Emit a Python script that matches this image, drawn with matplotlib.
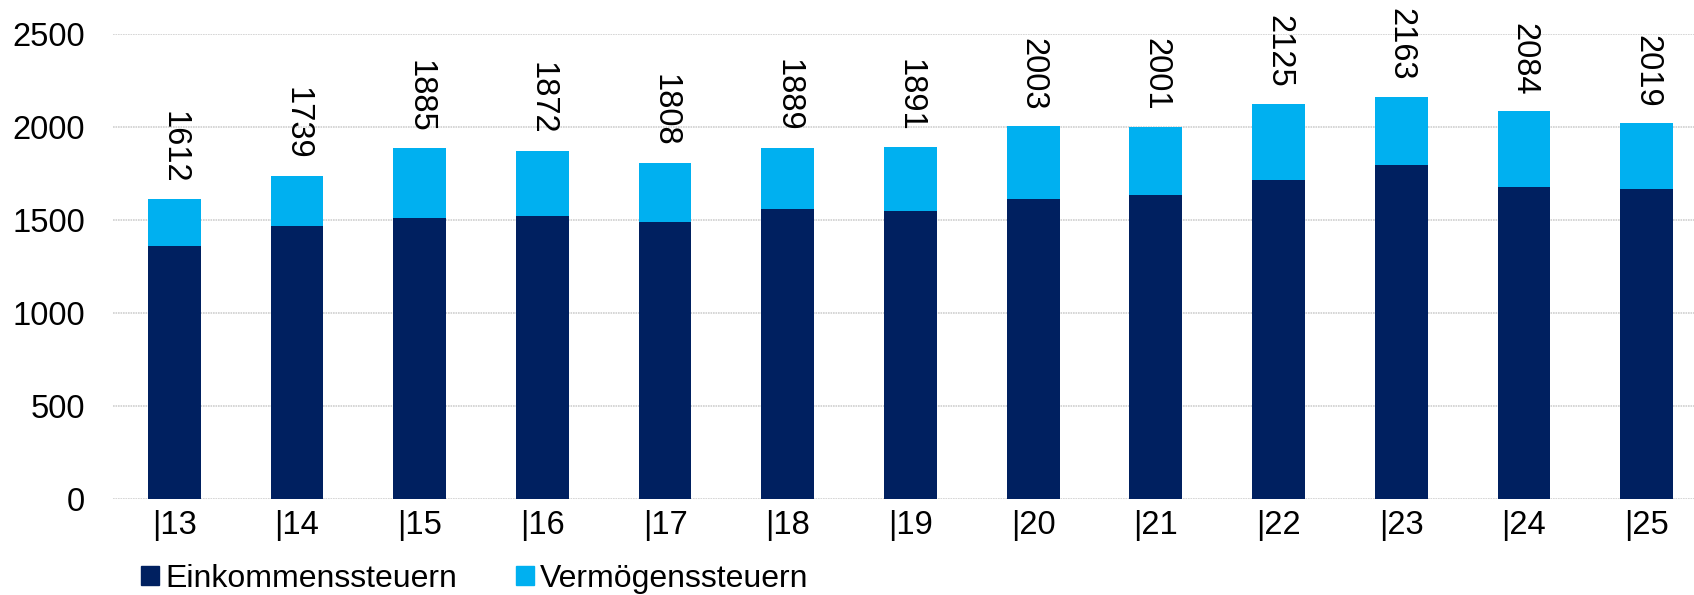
import numpy as np
import matplotlib.pyplot as plt
from matplotlib.patches import Patch

# data
years = ["|13", "|14", "|15", "|16", "|17", "|18", "|19", "|20", "|21", "|22", "|23", "|24", "|25"]
totals = [1612, 1739, 1885, 1872, 1808, 1889, 1891, 2003, 2001, 2125, 2163, 2084, 2019]
einkommen = [1358, 1466, 1509, 1523, 1487, 1561, 1550, 1615, 1632, 1713, 1796, 1675, 1665]
vermoegen = [t - e for t, e in zip(totals, einkommen)]

dark = "#002060"
light = "#00B0F0"

plt.rcParams['font.family'] = ['Liberation Sans', 'DejaVu Sans']

fig = plt.figure(figsize=(16.94, 5.95), dpi=100)
ax = fig.add_axes([0.0667, 0.1613, 0.9333, 0.7816])

x = np.arange(len(years))
ax.bar(x, einkommen, width=0.43, color=dark, zorder=3)
ax.bar(x, vermoegen, width=0.43, bottom=einkommen, color=light, zorder=3)

for xi, t in zip(x, totals):
    ax.annotate(str(t), (xi, t), xytext=(0, 11.5), textcoords="offset points",
                rotation=-90, ha="center", va="bottom", fontsize=23.5,
                annotation_clip=False)

ax.set_ylim(0, 2500)
ax.set_yticks([0, 500, 1000, 1500, 2000, 2500])
ax.set_xlim(-0.5, 12.386)
ax.set_xticks(x)
ax.set_xticklabels(years)
ax.tick_params(axis="both", length=0, labelsize=23.5)
ax.tick_params(axis="y", pad=20)
ax.tick_params(axis="x", pad=8)
ax.yaxis.grid(True, color="#D0D0D0", linewidth=1.2, linestyle=(0, (1, 0.5)), zorder=0)
for s in ax.spines.values():
    s.set_visible(False)

handles = [Patch(color=dark, label="Einkommenssteuern"),
           Patch(color=light, label="Vermögenssteuern")]
fig.legend(handles=handles, loc="center left", bbox_to_anchor=(0.0835, 0.027),
           ncol=2, frameon=False, fontsize=23, handlelength=0.55, handleheight=0.55,
           handletextpad=0.2, columnspacing=1.85, borderaxespad=0, borderpad=0)

fig.savefig("out.png", dpi=100)
